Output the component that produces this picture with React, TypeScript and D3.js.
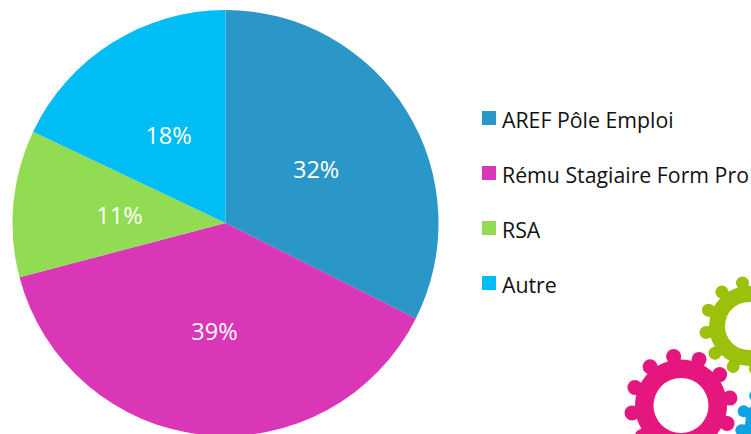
import React from 'react';
import * as d3 from 'd3';

const categories = ['AREF Pôle Emploi', 'Rému Stagiaire Form Pro', 'RSA', 'Autre'];
const values = [32.4, 38.5, 11.15, 17.95];
const labels = ['32%', '39%', '11%', '18%'];
const colors = ['#2b96c8', '#d936b8', '#92dc54', '#00bdf5'];

const width = 751;
const height = 434;
const cx = 225.5;
const cy = 223;
const radius = 213;

const font = '"Open Sans", sans-serif';

// decorative gears bottom right of the slide
function Gear({ x, y, body, hole, toothR, toothDist, phase, color }: any) {
  const teeth = d3.range(12).map((i) => ((i * 30 + phase) * Math.PI) / 180);
  const ring = d3.arc()({ innerRadius: hole, outerRadius: body, startAngle: 0, endAngle: 2 * Math.PI } as any) as string;
  return (
    <g transform={`translate(${x},${y})`} fill={color}>
      <path d={ring} />
      {teeth.map((a, i) => (
        <g key={i}>
          <line
            x1={Math.sin(a) * (body - 3)}
            y1={-Math.cos(a) * (body - 3)}
            x2={Math.sin(a) * toothDist}
            y2={-Math.cos(a) * toothDist}
            stroke={color}
            strokeWidth={toothR * 1.7}
          />
          <circle cx={Math.sin(a) * toothDist} cy={-Math.cos(a) * toothDist} r={toothR} />
        </g>
      ))}
    </g>
  );
}

export default function App() {
  const pie = d3.pie<number>().sort(null)(values);
  const arc = d3.arc<d3.PieArcDatum<number>>().innerRadius(0).outerRadius(radius);
  const labelArc = d3.arc<d3.PieArcDatum<number>>().innerRadius(radius * 0.5).outerRadius(radius * 0.5);
  const legendY = d3.scalePoint<string>().domain(categories).range([118, 283]);

  return (
    <svg
      width={width}
      height={height}
      viewBox={`0 0 ${width} ${height}`}
      style={{ position: 'absolute', left: 0, top: 0, background: '#fff' }}
    >
      <g transform={`translate(${cx},${cy})`}>
        {pie.map((d, i) => (
          <path key={i} d={arc(d) as string} fill={colors[i]} />
        ))}
        {pie.map((d, i) => {
          const [lx, ly] = labelArc.centroid(d);
          return (
            <text key={i} x={lx} y={ly + 11} textAnchor="middle" fill="#fff" fontFamily={font} fontSize={23.5}>
              {labels[i]}
            </text>
          );
        })}
      </g>

      {categories.map((c, i) => (
        <g key={c} transform={`translate(0,${legendY(c)})`}>
          <rect x={482} y={-7} width={14} height={14} fill={colors[i]} />
          <text x={502} y={10} fill="#111" fontFamily={font} fontSize={21.3}>
            {c}
          </text>
        </g>
      ))}

      <Gear x={749} y={326} body={40} hole={24} toothR={6.5} toothDist={43.5} phase={-8.6} color="#9bc10d" />
      <Gear x={681} y={405.5} body={46} hole={27.5} toothR={7.5} toothDist={49.5} phase={-8.6} color="#e5177f" />
      <Gear x={778} y={425} body={33} hole={18} toothR={6} toothDist={37} phase={-8} color="#0fa3e3" />
    </svg>
  );
}
